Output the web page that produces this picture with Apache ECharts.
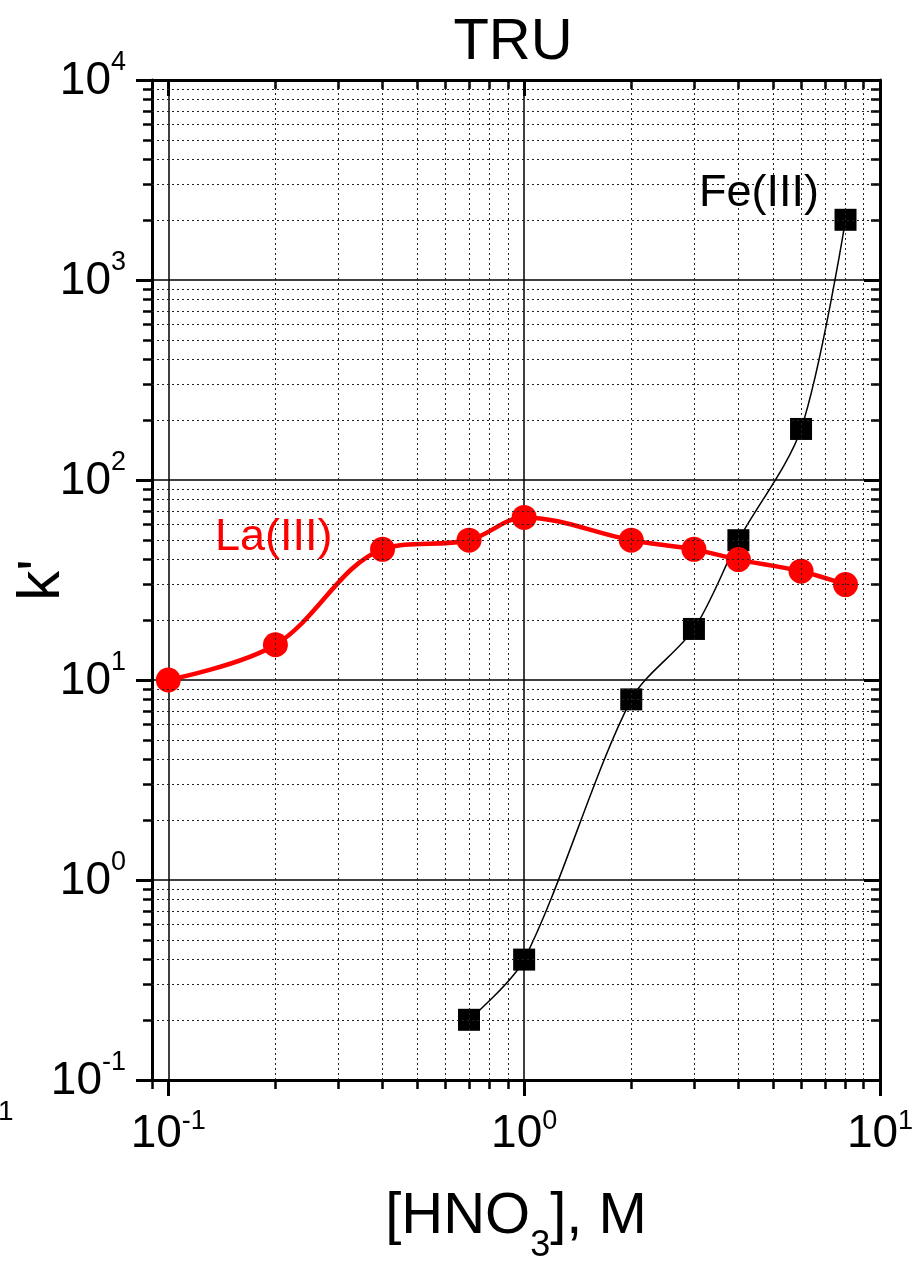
<!DOCTYPE html>
<html>
<head>
<meta charset="utf-8">
<script src="https://cdn.jsdelivr.net/npm/echarts@6/dist/echarts.min.js"></script>
<style>
html, body { margin: 0; padding: 0; background: #fff; }
#main { width: 913px; height: 1261px; }
</style>
</head>
<body>
<div id="main"></div>
<script>
// La(III) on TRU resin
var laX = [0.1, 0.2, 0.4, 0.7, 1, 2, 3, 4, 6, 8];
var laK = [10, 15, 45, 50, 65, 50, 45, 40, 35, 30];
// Fe(III) on TRU resin
var feX = [0.7, 1, 2, 3, 4, 6, 8];
var feK = [0.2, 0.4, 8, 18, 50, 180, 2000];

// tick positions
var xMajor = [0.1, 1, 10];
var xMinor = [0.09, 0.2, 0.3, 0.4, 0.5, 0.6, 0.7, 0.8, 0.9, 2, 3, 4, 5, 6, 7, 8, 9];
var yMajor = [0.1, 1, 10, 100, 1000, 10000];
var yMinor = [0.2, 0.3, 0.4, 0.5, 0.6, 0.7, 0.8, 0.9,
              2, 3, 4, 5, 6, 7, 8, 9,
              20, 30, 40, 50, 60, 70, 80, 90,
              200, 300, 400, 500, 600, 700, 800, 900,
              2000, 3000, 4000, 5000, 6000, 7000, 8000, 9000];

var FONT = '"Liberation Sans", Arial, sans-serif';

function pairs(xs, ys) {
    return xs.map(function (x, i) { return [x, ys[i]]; });
}

// 10^n 标签
function powLabel(v) {
    var e = Math.round(Math.log10(v));
    return '{b|10}{s|' + e + '}';
}
function powRich(supLine) {
    return {
        b: { fontSize: 46, fontFamily: FONT, color: '#000', lineHeight: 46, verticalAlign: 'bottom' },
        s: { fontSize: 27, fontFamily: FONT, color: '#000', lineHeight: supLine, verticalAlign: 'top' }
    };
}

var dotted = { color: '#222', width: 1, type: [2, 3] };

var chart = echarts.init(document.getElementById('main'));

var option = {
    backgroundColor: '#fff',
    animation: false,
    title: {
        text: 'TRU',
        left: 508,
        textAlign: 'center',
        top: 9,
        textStyle: { fontSize: 58, fontWeight: 'normal', fontFamily: FONT, color: '#000' }
    },
    grid: { left: 152, right: 33, top: 80, bottom: 181, containLabel: false, outerBoundsMode: 'none' },
    xAxis: [
        {
            type: 'log', logBase: 10, min: 0.09, max: 10, position: 'bottom',
            name: '{n|[HNO}{sub|3}{n|], M}',
            nameLocation: 'middle', nameGap: 108, nameMoveOverlap: false,
            nameTextStyle: {
                rich: {
                    n: { fontSize: 58, fontFamily: FONT, color: '#000', lineHeight: 58, verticalAlign: 'top' },
                    sub: { fontSize: 36, fontFamily: FONT, color: '#000', lineHeight: 76, verticalAlign: 'bottom' }
                }
            },
            axisLine: { show: true, lineStyle: { color: '#000', width: 3 } },
            axisTick: { show: true, inside: false, length: 16, lineStyle: { width: 3, color: '#000' }, customValues: xMajor },
            axisLabel: { margin: 28, formatter: powLabel, rich: powRich(49), customValues: xMajor },
            splitLine: { show: true, lineStyle: { color: '#000', width: 1.5 } }
        },
        {
            type: 'log', logBase: 10, min: 0.09, max: 10, position: 'bottom',
            axisLine: { show: false },
            axisTick: { show: true, inside: false, length: 9, lineStyle: { width: 2.5, color: '#000' }, customValues: xMinor },
            axisLabel: { show: false },
            splitLine: { show: false }
        },
        {
            type: 'log', logBase: 10, min: 0.09, max: 10, position: 'top',
            axisLine: { show: true, lineStyle: { color: '#000', width: 3 } },
            axisTick: { show: true, inside: true, length: 16, lineStyle: { width: 3, color: '#000' }, customValues: xMajor },
            axisLabel: { show: false },
            splitLine: { show: false }
        },
        {
            type: 'log', logBase: 10, min: 0.09, max: 10, position: 'top',
            axisLine: { show: false },
            axisTick: { show: true, inside: true, length: 9, lineStyle: { width: 2.5, color: '#000' }, customValues: xMinor },
            axisLabel: { show: false },
            splitLine: { show: false }
        }
    ],
    yAxis: [
        {
            type: 'log', logBase: 10, min: 0.1, max: 10000, position: 'left',
            name: "k'",
            nameLocation: 'middle', nameGap: 80, nameRotate: 90, nameMoveOverlap: false,
            nameTextStyle: { fontSize: 60, fontFamily: FONT, color: '#000' },
            axisLine: { show: true, lineStyle: { color: '#000', width: 3 } },
            axisTick: { show: true, inside: false, length: 16, lineStyle: { width: 3, color: '#000' }, customValues: yMajor },
            axisLabel: { margin: 26, formatter: powLabel, rich: powRich(55), customValues: yMajor, padding: [0, 0, 6, 0] },
            splitLine: { show: true, lineStyle: { color: '#000', width: 1.5 } }
        },
        {
            type: 'log', logBase: 10, min: 0.1, max: 10000, position: 'left',
            axisLine: { show: false },
            axisTick: { show: true, inside: false, length: 9, lineStyle: { width: 2.5, color: '#000' }, customValues: yMinor },
            axisLabel: { show: false },
            splitLine: { show: false }
        },
        {
            type: 'log', logBase: 10, min: 0.1, max: 10000, position: 'right',
            axisLine: { show: true, lineStyle: { color: '#000', width: 3 } },
            axisTick: { show: true, inside: true, length: 16, lineStyle: { width: 3, color: '#000' }, customValues: yMajor },
            axisLabel: { show: false },
            splitLine: { show: false }
        },
        {
            type: 'log', logBase: 10, min: 0.1, max: 10000, position: 'right',
            axisLine: { show: false },
            axisTick: { show: true, inside: true, length: 9, lineStyle: { width: 2.5, color: '#000' }, customValues: yMinor },
            axisLabel: { show: false },
            splitLine: { show: false }
        }
    ],
    series: [
        {
            // 次网格线 (dotted minor grid)
            name: 'grid',
            type: 'line',
            data: [],
            silent: true,
            z: 1,
            markLine: {
                silent: true,
                symbol: 'none',
                label: { show: false },
                lineStyle: dotted,
                emphasis: { disabled: true },
                data: xMinor.slice(1).map(function (v) { return { xAxis: v }; })
                    .concat(yMinor.map(function (v) { return { yAxis: v }; }))
            }
        },
        {
            name: 'Fe(III)',
            type: 'line',
            data: pairs(feX, feK),
            smooth: 0.3,
            symbol: 'rect',
            symbolSize: 22,
            itemStyle: { color: '#000' },
            lineStyle: { color: '#000', width: 1.5 },
            z: 3
        },
        {
            name: 'La(III)',
            type: 'line',
            data: pairs(laX, laK),
            smooth: 0.35,
            symbol: 'circle',
            symbolSize: 25,
            itemStyle: { color: '#ff0000' },
            lineStyle: { color: '#ff0000', width: 4.5 },
            z: 4
        }
    ],
    graphic: [
        { type: 'text', left: 215, top: 515, z: 10,
          style: { text: 'La(III)', fill: '#ff0000', font: '45px ' + FONT } },
        { type: 'text', left: 699, top: 171, z: 10,
          style: { text: 'Fe(III)', fill: '#000', font: '45px ' + FONT } },
        { type: 'text', left: -2, top: 1098, z: 10,
          style: { text: '1', fill: '#000', font: '28px ' + FONT } }
    ]
};

chart.setOption(option);
</script>
</body>
</html>
